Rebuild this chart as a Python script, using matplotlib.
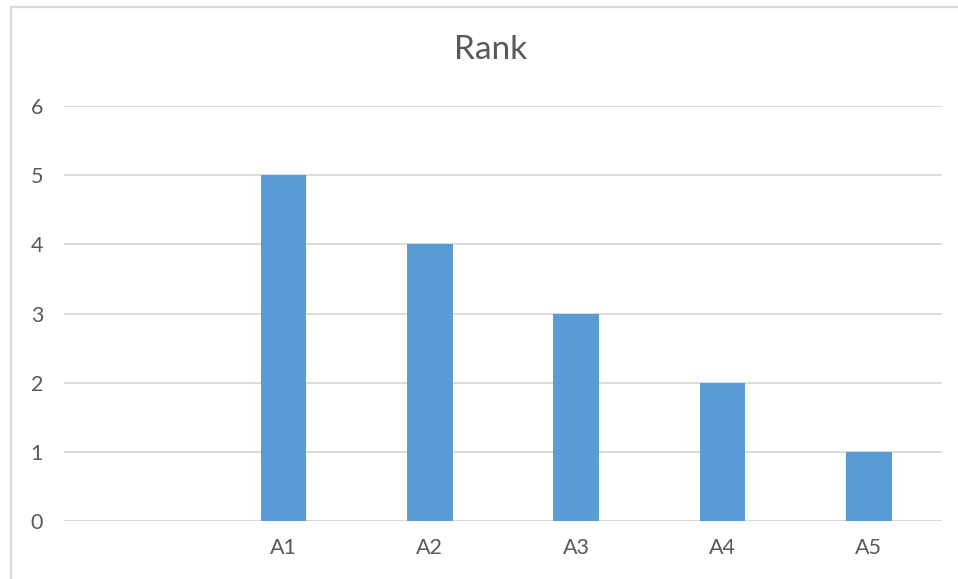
import numpy as np
import matplotlib.pyplot as plt
from matplotlib.patches import Rectangle

categories = ["", "A1", "A2", "A3", "A4", "A5"]
rank = [np.nan, 5, 4, 3, 2, 1]
y_ticks = [0, 1, 2, 3, 4, 5, 6]

plt.rcParams["font.family"] = ["Lato", "DejaVu Sans"]
text_color = "#595959"

fig = plt.figure(figsize=(9.58, 5.79), dpi=100)
ax = fig.add_axes([64 / 958, 58 / 579, 878 / 958, 415 / 579])

x = np.arange(len(categories))
ax.bar(x, rank, width=0.31, color="#5B9BD5", zorder=3)

ax.set_xlim(-0.5, len(categories) - 0.5)
ax.set_ylim(0, 6)
ax.set_yticks(y_ticks)
ax.set_xticks(x)
ax.set_xticklabels(categories)
ax.grid(axis="y", color="#D9D9D9", linewidth=1.3, zorder=0)
ax.tick_params(length=0, labelsize=15.5, colors=text_color)
ax.tick_params(axis="y", pad=15)
ax.tick_params(axis="x", pad=12)
for s in ax.spines.values():
    s.set_visible(False)
ax.axhline(0, color="#D9D9D9", linewidth=1.3, zorder=1)

fig.text(491 / 958, 1 - 50 / 579, "Rank", ha="center", va="center",
         fontsize=24, color=text_color)

# chart border, cut off at right and bottom like the screenshot
fig.patches.append(Rectangle((11 / 958, -0.05), 1.0, 1 - 7 / 579 + 0.05,
                             transform=fig.transFigure, fill=False,
                             edgecolor="#D9D9D9", linewidth=1.6))

fig.savefig("out.png", dpi=100)
